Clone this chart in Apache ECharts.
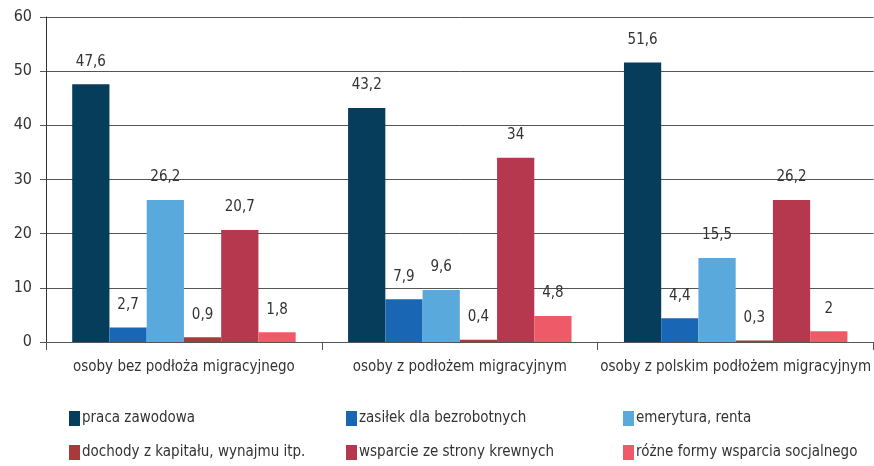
<!DOCTYPE html>
<html><head><meta charset="utf-8">
<script src="https://cdn.jsdelivr.net/npm/echarts@6/dist/echarts.min.js"></script>
<style>html,body{margin:0;padding:0;background:#fff}#c{width:874px;height:466px}</style>
</head><body><div id="c"></div>
<script>
const categories = ['osoby bez podłoża migracyjnego', 'osoby z podłożem migracyjnym', 'osoby z polskim podłożem migracyjnym'];
const seriesNames = ['praca zawodowa', 'zasiłek dla bezrobotnych', 'emerytura, renta', 'dochody z kapitału, wynajmu itp.', 'wsparcie ze strony krewnych', 'różne formy wsparcia socjalnego'];
const praca = [47.6, 43.2, 51.6];
const zasilek = [2.7, 7.9, 4.4];
const emerytura = [26.2, 9.6, 15.5];
const dochody = [0.9, 0.4, 0.3];
const wsparcie = [20.7, 34, 26.2];
const rozne = [1.8, 4.8, 2];
const yTicks = [0, 10, 20, 30, 40, 50, 60];

const values = [praca, zasilek, emerytura, dochody, wsparcie, rozne];
const colors = ['#053d5b', '#1966b4', '#5aa9dc', '#a83a3b', '#b5384f', '#ef5a69'];
const FONT = "'DejaVu Sans Condensed', 'Liberation Sans Narrow', 'Roboto', sans-serif";

const chart = echarts.init(document.getElementById('c'));
const legendPos = [[69, 411], [346, 411], [623, 411], [69, 445], [346, 445], [623, 445]];
const legends = seriesNames.map((n, i) => ({
  left: legendPos[i][0], top: legendPos[i][1], data: [n],
  itemWidth: 11, itemHeight: 15, icon: 'rect', selectedMode: false, padding: 0,
  textStyle: {fontFamily: FONT, fontSize: 15, color: '#333', padding: [0, 0, 0, -3]}
}));
chart.setOption({
  animation: false,
  color: colors,
  textStyle: {fontFamily: FONT},
  grid: {left: 46, right: 0, top: 17, bottom: 124, containLabel: false},
  legend: legends,
  xAxis: {
    type: 'category', data: categories,
    axisLine: {show: true, lineStyle: {color: '#555', width: 1}},
    axisTick: {show: true, length: 8, lineStyle: {color: '#555'}},
    axisLabel: {interval: 0, fontFamily: FONT, fontSize: 15, color: '#333', margin: 18}
  },
  yAxis: {
    type: 'value', min: 0, max: 60, interval: 10,
    axisLine: {show: true, lineStyle: {color: '#333'}},
    axisTick: {show: true, length: 6, lineStyle: {color: '#555'}},
    splitLine: {show: true, lineStyle: {color: '#555', width: 1}},
    axisLabel: {fontFamily: FONT, fontSize: 16, color: '#333', margin: 14,
      formatter: v => yTicks.includes(v) ? String(v) : ''}
  },
  series: seriesNames.map((n, i) => ({
    name: n, type: 'bar', data: values[i],
    barGap: '0%', barCategoryGap: '19%',
    itemStyle: {color: colors[i]},
    label: {show: true, position: 'top', distance: 15, fontFamily: FONT, fontSize: 15, color: '#333',
      formatter: p => String(p.value).replace('.', ',')}
  }))
});
</script></body></html>
